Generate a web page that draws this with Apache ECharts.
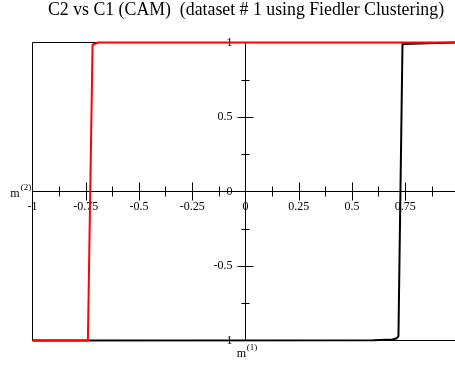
<!DOCTYPE html>
<html>
<head>
<meta charset="utf-8">
<script src="https://cdn.jsdelivr.net/npm/echarts@6/dist/echarts.min.js"></script>
<style>
html,body{margin:0;padding:0;background:#fff;}
#chart{width:455px;height:365px;}
</style>
</head>
<body>
<div id="chart"></div>
<script>
// Data
var titleText = 'C2 vs C1 (CAM)  (dataset # 1 using Fiedler Clustering)';
var xLabelName = 'm';
var xLabelSup = '(1)';
var yLabelName = 'm';
var yLabelSup = '(2)';

// red curve (C2)
var redX = [-1, -0.74, -0.736, -0.718, -0.712, -0.69, 1];
var redY = [-1, -1, -0.99, 0.985, 0.997, 1, 1];
// black curve (C1)
var blackX = [-1, 0.6, 0.69, 0.71, 0.718, 0.737, 0.745, 1];
var blackY = [-1, -0.998, -0.993, -0.985, -0.97, 0.99, 1, 1];

function pairs(xs, ys) { return xs.map(function (x, i) { return [x, ys[i]]; }); }

var FONT = '"Liberation Serif", "Times New Roman", serif';

function fmt(v) { return String(Math.round(v * 1000) / 1000); }

var GL = 32.5, GT = 42.5, GW = 426, GH = 298;

var chart = echarts.init(document.getElementById('chart'), null, {renderer: 'canvas'});

var baseX = {
  type: 'value', min: -1, max: 1, interval: 0.25,
  splitLine: {show: false},
  axisLine: {onZero: false, lineStyle: {color: '#000', width: 1}},
  minorTick: {show: true, splitNumber: 2, length: 5, lineStyle: {color: '#000', width: 1}},
  axisTick: {show: true, length: 9, lineStyle: {color: '#000', width: 1}},
  offset: -GH / 2
};
var baseY = {
  type: 'value', min: -1, max: 1, interval: 0.5,
  splitLine: {show: false},
  axisLine: {onZero: false, lineStyle: {color: '#000', width: 1}},
  minorTick: {show: true, splitNumber: 2, length: 4, lineStyle: {color: '#000', width: 1}},
  axisTick: {show: true, length: 8, lineStyle: {color: '#000', width: 1}},
  offset: -GW / 2
};

var option = {
  backgroundColor: '#fff',
  animation: false,
  grid: {left: GL, top: GT, width: GW, height: GH, show: true, borderColor: '#000', borderWidth: 1,
         backgroundColor: 'transparent', containLabel: false, outerBoundsMode: 'none'},
  xAxis: [
    Object.assign({}, baseX, {
      position: 'bottom',
      axisLabel: {show: true, margin: 9, color: '#000', fontFamily: FONT, fontSize: 12, formatter: fmt, showMinLabel: true, showMaxLabel: true, hideOverlap: false}
    }),
    Object.assign({}, baseX, {
      position: 'top',
      axisLabel: {show: false}
    })
  ],
  yAxis: [
    Object.assign({}, baseY, {
      position: 'left',
      axisLabel: {show: true, margin: 13, color: '#000', fontFamily: FONT, fontSize: 12, formatter: fmt, showMinLabel: true, showMaxLabel: true, hideOverlap: false}
    }),
    Object.assign({}, baseY, {
      position: 'right',
      axisLabel: {show: false}
    })
  ],
  series: [
    {
      type: 'line', data: pairs(blackX, blackY), showSymbol: false, symbol: 'none', clip: false,
      lineStyle: {color: '#000', width: 2}, xAxisIndex: 0, yAxisIndex: 0, z: 3
    },
    {
      type: 'line', data: pairs(redX, redY), showSymbol: false, symbol: 'none', clip: false,
      lineStyle: {color: '#ff0000', width: 2}, xAxisIndex: 0, yAxisIndex: 0, z: 4
    }
  ],
  graphic: [
    {
      type: 'text', x: 246, y: 10,
      style: {text: titleText, font: '17.8px ' + FONT, fill: '#000', align: 'center', verticalAlign: 'middle'}
    },
    {type: 'text', x: 15, y: 194, style: {text: yLabelName, font: '12px ' + FONT, fill: '#000', align: 'center', verticalAlign: 'middle'}},
    {type: 'text', x: 26, y: 188, style: {text: yLabelSup, font: '9px ' + FONT, fill: '#000', align: 'center', verticalAlign: 'middle'}},
    {type: 'text', x: 241.5, y: 354, style: {text: xLabelName, font: '12px ' + FONT, fill: '#000', align: 'center', verticalAlign: 'middle'}},
    {type: 'text', x: 252, y: 348, style: {text: xLabelSup, font: '9px ' + FONT, fill: '#000', align: 'center', verticalAlign: 'middle'}}
  ]
};
chart.setOption(option);
</script>
</body>
</html>
